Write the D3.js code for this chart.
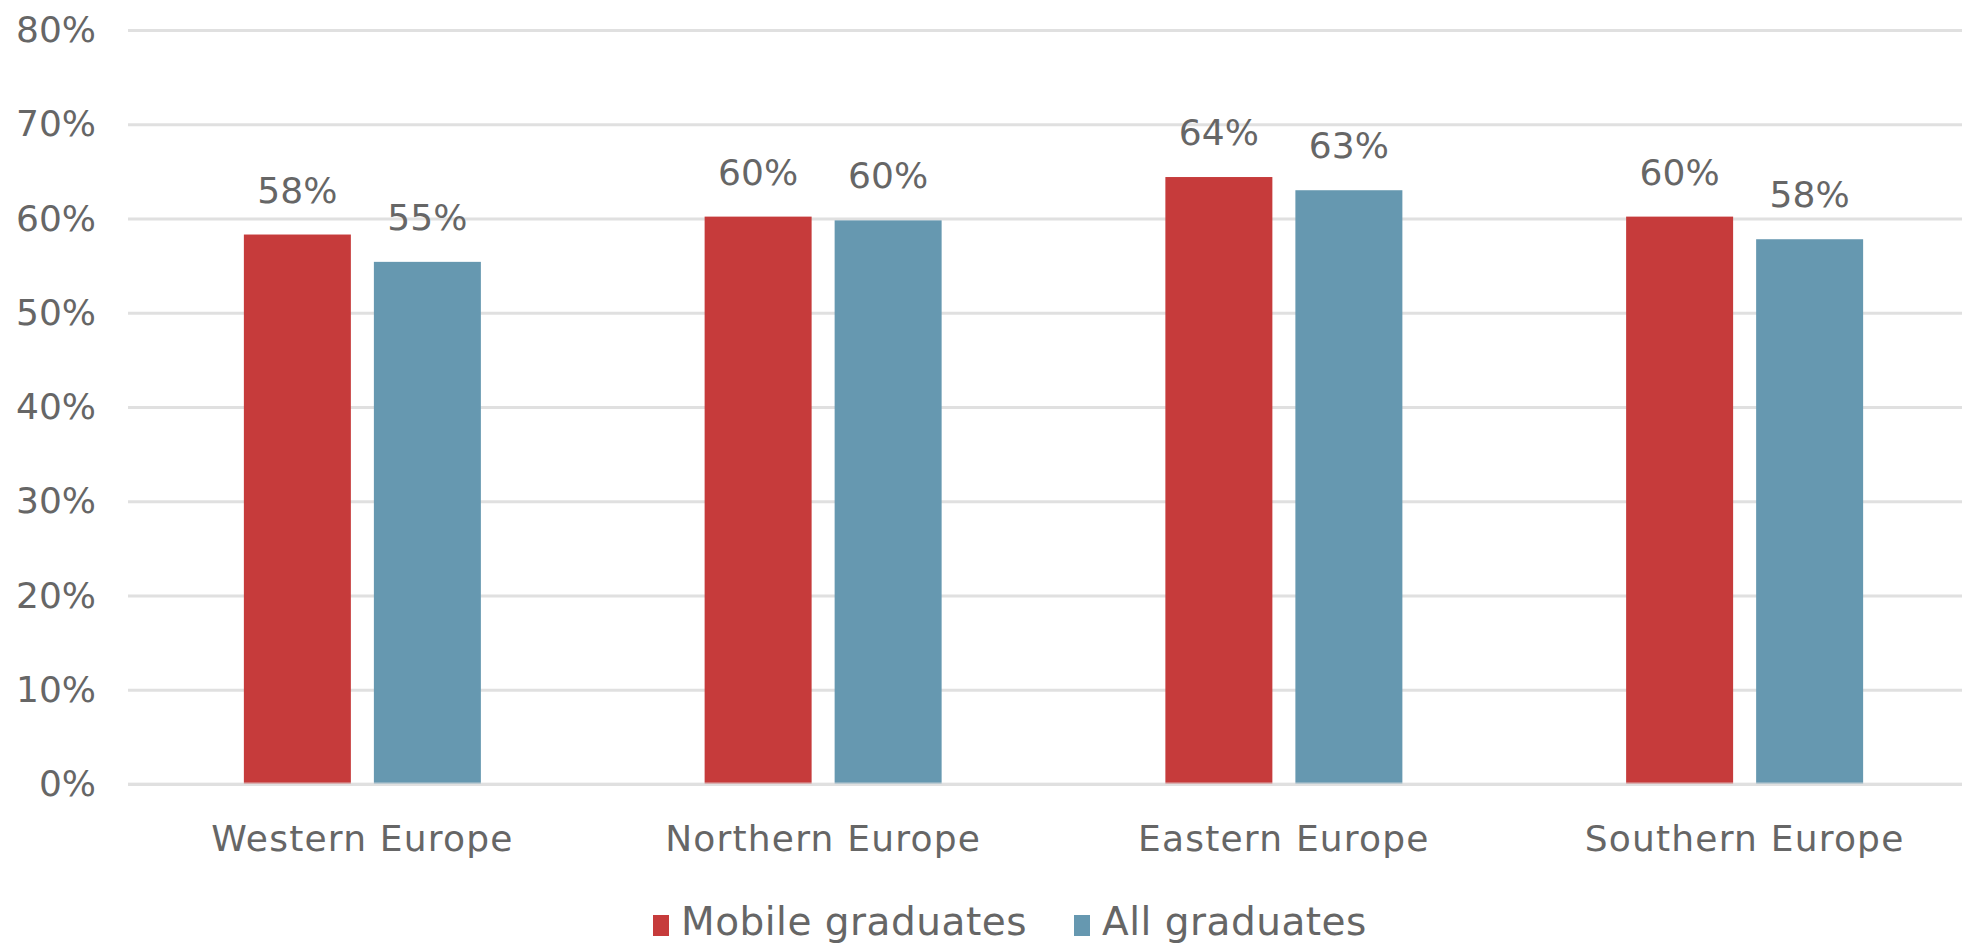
<!DOCTYPE html>
<html>
<head>
<meta charset="utf-8">
<script src="https://cdn.jsdelivr.net/npm/d3@7"></script>
<style>
  html, body { margin: 0; padding: 0; background: #ffffff; }
  svg { display: block; }
  text { font-family: "DejaVu Sans", sans-serif; fill: #666666; }
</style>
</head>
<body>
<svg id="chart" width="1962" height="945"></svg>
<script>
// Employment rate by region, mobile graduates vs all graduates
const regions = ["Western Europe", "Northern Europe", "Eastern Europe", "Southern Europe"];
const seriesNames = ["Mobile graduates", "All graduates"];
const mobileGraduates = [0.583, 0.602, 0.644, 0.602];
const allGraduates = [0.554, 0.598, 0.630, 0.578];
const yTicks = [0, 0.1, 0.2, 0.3, 0.4, 0.5, 0.6, 0.7, 0.8];
const seriesColors = ["#c63b3b", "#6698b0"];

const svg = d3.select("#chart");
const W = 1962, H = 945;

const y = d3.scaleLinear().domain([0, 0.8]).range([784, 30]);

const x0 = d3.scaleBand()
  .domain(regions)
  .range([132, 1975])
  .paddingInner(0.4856)
  .paddingOuter(0.2428);

const x1 = d3.scaleBand()
  .domain(seriesNames)
  .range([0, x0.bandwidth()])
  .paddingInner(0.177);

const color = d3.scaleOrdinal().domain(seriesNames).range(seriesColors);

const rows = regions.map((r, i) => ({
  region: r,
  values: [
    { series: seriesNames[0], value: mobileGraduates[i] },
    { series: seriesNames[1], value: allGraduates[i] }
  ]
}));

// horizontal gridlines with percent labels
const yAxis = d3.axisLeft(y)
  .tickValues(yTicks)
  .tickFormat(d3.format(".0%"))
  .tickSize(-(W - 128))
  .tickPadding(32);

const gy = svg.append("g")
  .attr("transform", "translate(128,0)")
  .call(yAxis);
gy.select(".domain").remove();
gy.selectAll(".tick line")
  .attr("stroke", "#e0e0e0")
  .attr("stroke-width", 3);
gy.selectAll(".tick text")
  .attr("font-size", 36)
  .attr("fill", "#6a6a6a")
  .style("font-family", "'DejaVu Sans', sans-serif");

// grouped bars
const groups = svg.append("g")
  .selectAll("g")
  .data(rows)
  .join("g")
  .attr("transform", d => `translate(${x0(d.region)},0)`);

groups.selectAll("rect")
  .data(d => d.values)
  .join("rect")
  .attr("x", d => x1(d.series))
  .attr("y", d => y(d.value))
  .attr("width", x1.bandwidth())
  .attr("height", d => y(0) - y(d.value))
  .attr("fill", d => color(d.series));

// value labels above bars
groups.selectAll("text.value")
  .data(d => d.values)
  .join("text")
  .attr("class", "value")
  .attr("x", d => x1(d.series) + x1.bandwidth() / 2)
  .attr("y", d => y(d.value) - 32)
  .attr("text-anchor", "middle")
  .attr("font-size", 36)
  .attr("fill", "#6a6a6a")
  .text(d => d3.format(".0%")(d.value));

// baseline drawn over the bars
svg.append("line")
  .attr("x1", 128).attr("x2", W)
  .attr("y1", y(0)).attr("y2", y(0))
  .attr("stroke", "#e0e0e0")
  .attr("stroke-opacity", 0.7)
  .attr("stroke-width", 3);

// category labels
const xAxis = d3.axisBottom(x0).tickSize(0).tickPadding(0);
const gx = svg.append("g")
  .attr("transform", `translate(0,${y(0)})`)
  .call(xAxis);
gx.select(".domain").remove();
gx.selectAll(".tick text")
  .attr("y", 67)
  .attr("dy", 0)
  .attr("font-size", 36)
  .attr("letter-spacing", 1.2)
  .attr("fill", "#6a6a6a")
  .style("font-family", "'DejaVu Sans', sans-serif");

// legend
const legendX = [653, 1074];
const legend = svg.append("g")
  .selectAll("g")
  .data(seriesNames)
  .join("g")
  .attr("transform", (d, i) => `translate(${legendX[i]},915)`);

legend.append("rect")
  .attr("width", 16)
  .attr("height", 21)
  .attr("fill", d => color(d));

legend.append("text")
  .attr("x", 28)
  .attr("y", 20)
  .attr("font-size", 39)
  .attr("letter-spacing", 0.5)
  .attr("fill", "#6a6a6a")
  .text(d => d);
</script>
</body>
</html>
